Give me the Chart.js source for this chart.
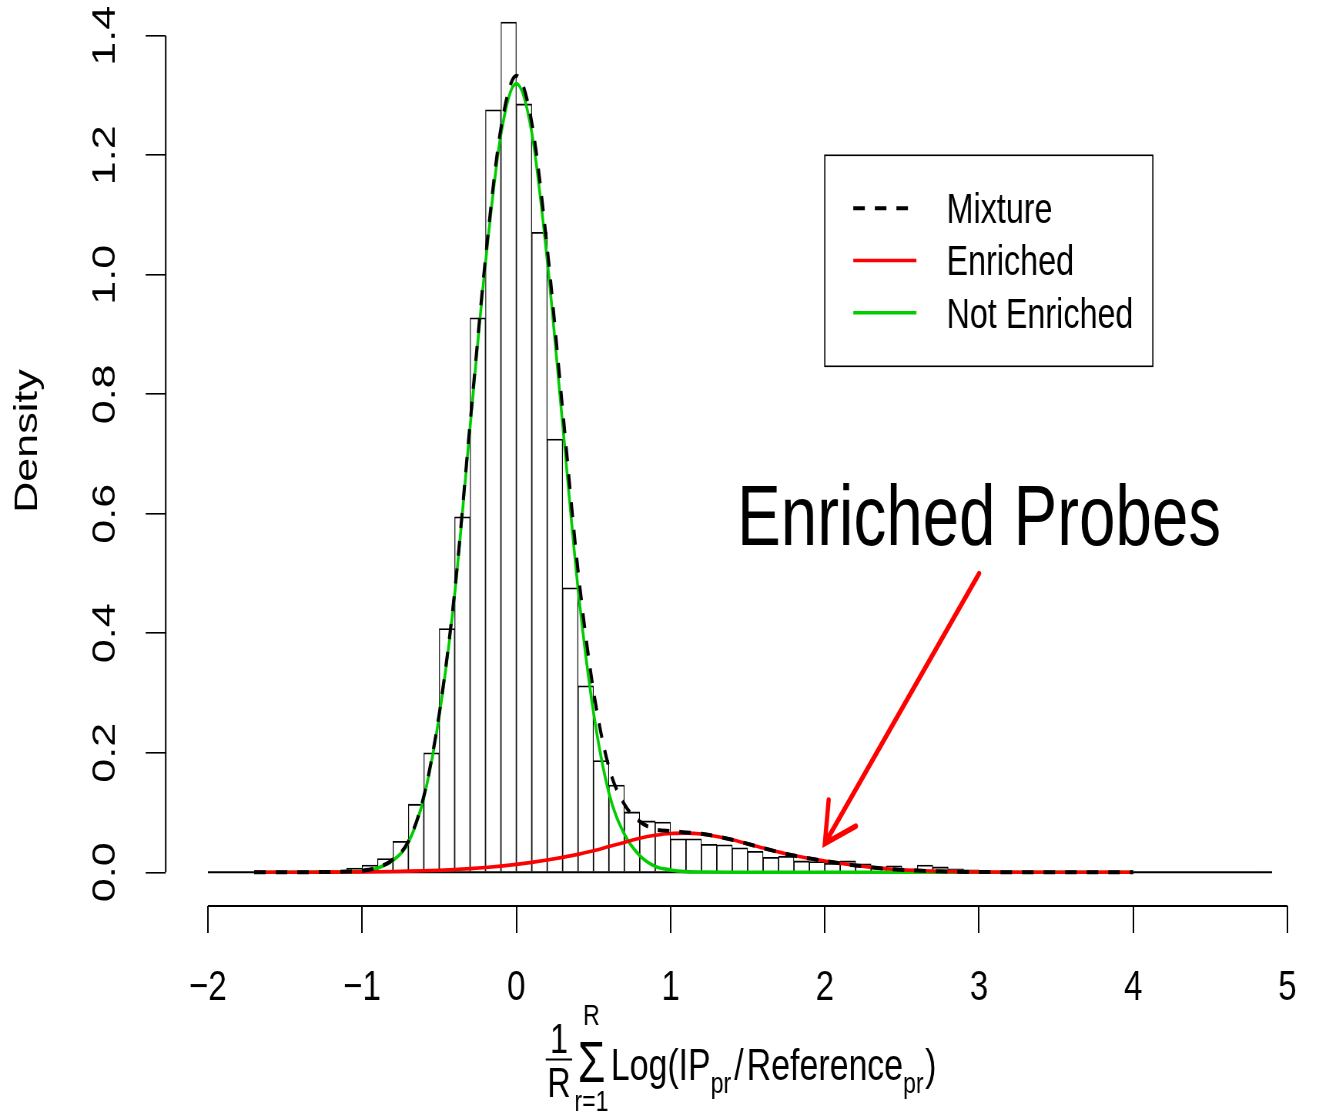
<!DOCTYPE html>
<html>
<head>
<meta charset="utf-8">
<script src="https://cdn.jsdelivr.net/npm/chart.js@4.4.0/dist/chart.umd.min.js"></script>
<style>
    html, body { margin: 0; padding: 0; background: #fff; overflow: hidden; }
    /* the original R device is squeezed horizontally in the reference picture */
    #wrap { width: 1713px; height: 1117px; transform: scaleX(0.77); transform-origin: 0 0; }
</style>
</head>
<body>
<div id="wrap"><canvas id="chart" width="1713" height="1117"></canvas></div>
<script>
// --- histogram (bin left edges, width 0.1) ---
const binLeft = [-2.0, -1.9, -1.8, -1.7, -1.6, -1.5, -1.4, -1.3, -1.2, -1.1, -1.0, -0.9, -0.8, -0.7, -0.6, -0.5, -0.4, -0.3, -0.2, -0.1,
    0.0, 0.1, 0.2, 0.3, 0.4, 0.5, 0.6, 0.7, 0.8, 0.9, 1.0, 1.1, 1.2, 1.3, 1.4, 1.5, 1.6, 1.7, 1.8, 1.9,
    2.0, 2.1, 2.2, 2.3, 2.4, 2.5, 2.6, 2.7, 2.8, 2.9, 3.0, 3.1, 3.2, 3.3, 3.4, 3.5, 3.6, 3.7, 3.8, 3.9,
    4.0, 4.1, 4.2, 4.3, 4.4, 4.5, 4.6, 4.7, 4.8];
const binWidth = 0.1;
const histDensity = [0, 0, 0, 0, 0, 0, 0, 0, 0.001, 0.007, 0.012, 0.023, 0.052, 0.114, 0.200, 0.408, 0.595, 0.928, 1.276, 1.423,
    1.286, 1.071, 0.725, 0.476, 0.312, 0.187, 0.146, 0.101, 0.086, 0.084, 0.056, 0.056, 0.047, 0.046, 0.041, 0.035, 0.025, 0.027, 0.019, 0.018,
    0.015, 0.019, 0.014, 0.009, 0.011, 0.006, 0.012, 0.009, 0.006, 0.004, 0.002, 0.001, 0.001, 0, 0, 0, 0, 0, 0, 0,
    0, 0, 0, 0, 0, 0, 0, 0, 0.001];

// --- fitted densities ---
const curveX = [-1.7, -1.4, -1.2, -1.1, -1.0, -0.9, -0.8, -0.7, -0.6, -0.5, -0.4, -0.3, -0.2, -0.1, 0.0, 0.1, 0.2, 0.3, 0.4, 0.5,
    0.6, 0.7, 0.8, 0.9, 1.0, 1.1, 1.2, 1.4, 1.6, 1.8, 2.0, 2.2, 2.4, 2.6, 2.8, 3.0, 3.3, 3.6, 4.0];
const mixture = [0, 0.0001, 0.0006, 0.0013, 0.0027, 0.008, 0.0214, 0.0519, 0.1276, 0.2655, 0.4697, 0.7512, 1.028, 1.2453, 1.3332, 1.2546, 1.0455, 0.775, 0.505, 0.304,
    0.176, 0.114, 0.085, 0.072, 0.069, 0.0667, 0.0644, 0.0545, 0.0405, 0.028, 0.019, 0.0115, 0.006, 0.0029, 0.0013, 0.0005, 0.0001, 0, 0];
const enriched = [0, 0.0001, 0.0003, 0.0005, 0.0007, 0.001, 0.0014, 0.0019, 0.0026, 0.0035, 0.0047, 0.0062, 0.008, 0.0103, 0.0132, 0.0166, 0.0205, 0.025, 0.03, 0.036,
    0.043, 0.05, 0.057, 0.062, 0.065, 0.0655, 0.064, 0.0545, 0.0405, 0.028, 0.019, 0.0115, 0.006, 0.0029, 0.0013, 0.0005, 0.0001, 0, 0];
const notEnriched = [0, 0, 0.0003, 0.0008, 0.002, 0.007, 0.02, 0.05, 0.125, 0.262, 0.465, 0.745, 1.02, 1.235, 1.32, 1.238, 1.025, 0.75, 0.475, 0.268,
    0.133, 0.064, 0.028, 0.01, 0.004, 0.0012, 0.0004, 0, 0, 0, 0, 0, 0, 0, 0, 0, 0, 0, 0];

const xTicks = [-2, -1, 0, 1, 2, 3, 4, 5];
const yTicks = [0, 0.2, 0.4, 0.6, 0.8, 1.0, 1.2, 1.4];
const legendLabels = ['Mixture', 'Enriched', 'Not Enriched'];
const legendColors = ['#000000', '#FF0000', '#00CD00'];
const legendAnchor = [2.0, 1.2];      // top-left of the legend box, data units
const noteText = 'Enriched Probes';
const notePos = [3.0, 0.6];           // centre of the note, data units
const arrowFrom = [3.0, 0.5];
const arrowTo = [2.0, 0.048];

const FONT = '"Liberation Sans", Arial, Helvetica, sans-serif';
const MIX_DASH = [15, 13];

function pts(xs, ys) {
    return xs.map((x, i) => ({ x: x, y: ys[i] }));
}

// --- R style decorations: axis lines, legend, note, arrow, axis titles ---
const rDecor = {
    id: 'rDecor',
    afterDraw(chart) {
        const ctx = chart.ctx;
        const xs = chart.scales.x, ys = chart.scales.y;
        const area = chart.chartArea;
        ctx.save();
        ctx.strokeStyle = '#000';
        ctx.fillStyle = '#000';

        // axis lines only over the tick range
        ctx.lineWidth = 1.8;
        ctx.beginPath();
        ctx.moveTo(xs.getPixelForValue(xTicks[0]), area.bottom);
        ctx.lineTo(xs.getPixelForValue(xTicks[xTicks.length - 1]), area.bottom);
        ctx.stroke();
        ctx.lineWidth = 2;
        ctx.beginPath();
        ctx.moveTo(area.left, ys.getPixelForValue(yTicks[0]));
        ctx.lineTo(area.left, ys.getPixelForValue(yTicks[yTicks.length - 1]));
        ctx.stroke();

        // legend box
        const lx = xs.getPixelForValue(legendAnchor[0]);
        const ly = ys.getPixelForValue(legendAnchor[1]);
        ctx.lineWidth = 1.6;
        ctx.strokeRect(lx, ly, 426, 211);
        legendLabels.forEach((label, i) => {
            const ry = ly + 53 + i * 52.2;
            ctx.strokeStyle = legendColors[i];
            ctx.lineWidth = i === 0 ? 4 : 3.6;
            ctx.setLineDash(i === 0 ? MIX_DASH : []);
            ctx.beginPath();
            ctx.moveTo(lx + 37, ry);
            ctx.lineTo(lx + 119, ry);
            ctx.stroke();
            ctx.setLineDash([]);
            ctx.font = '42px ' + FONT;
            ctx.textAlign = 'left';
            ctx.textBaseline = 'alphabetic';
            ctx.fillText(label, lx + 158, ry + 15);
        });

        // note text
        ctx.font = '85px ' + FONT;
        ctx.textAlign = 'center';
        ctx.textBaseline = 'alphabetic';
        ctx.fillText(noteText, xs.getPixelForValue(notePos[0]), ys.getPixelForValue(notePos[1]) + 31);

        // arrow
        const ax0 = xs.getPixelForValue(arrowFrom[0]), ay0 = ys.getPixelForValue(arrowFrom[1]);
        const ax1 = xs.getPixelForValue(arrowTo[0]), ay1 = ys.getPixelForValue(arrowTo[1]);
        const ang = Math.atan2(ay1 - ay0, ax1 - ax0);
        const head = 44, spread = Math.PI / 6;
        ctx.strokeStyle = '#FF0000';
        ctx.lineWidth = 5.5;
        ctx.lineCap = 'round';
        ctx.beginPath();
        ctx.moveTo(ax0, ay0);
        ctx.lineTo(ax1, ay1);
        ctx.moveTo(ax1 - head * Math.cos(ang - spread), ay1 - head * Math.sin(ang - spread));
        ctx.lineTo(ax1, ay1);
        ctx.lineTo(ax1 - head * Math.cos(ang + spread), ay1 - head * Math.sin(ang + spread));
        ctx.stroke();
        ctx.lineCap = 'butt';

        // y title
        ctx.save();
        ctx.translate(36, 441);
        ctx.rotate(-Math.PI / 2);
        ctx.font = '43px ' + FONT;
        ctx.textAlign = 'center';
        ctx.textBaseline = 'middle';
        ctx.fillStyle = '#000';
        ctx.fillText('Density', 0, 0);
        ctx.restore();

        // x title: 1/R sum_{r=1}^R Log(IP_pr / Reference_pr)
        drawXTitle(ctx, (area.left + area.right) / 2);
        ctx.restore();
    }
};

function drawXTitle(ctx, cx) {
    const f = s => s + 'px ' + FONT;
    ctx.fillStyle = '#000';
    ctx.strokeStyle = '#000';
    ctx.textAlign = 'left';
    ctx.textBaseline = 'alphabetic';
    ctx.font = f(42);
    const fracW = Math.max(ctx.measureText('1').width, ctx.measureText('R').width) + 4;
    ctx.font = f(58);
    const wSig = ctx.measureText('\u03A3').width;
    ctx.font = f(30);
    const wUp = ctx.measureText('R').width, wLow = ctx.measureText('r=1').width, wPr = ctx.measureText('pr').width;
    const sumW = Math.max(wSig, wUp, wLow);
    ctx.font = f(44);
    const wLog = ctx.measureText('Log(IP').width, wSl = ctx.measureText('/').width;
    const wRef = ctx.measureText('Reference').width, wPar = ctx.measureText(')').width;
    const gap = 3;
    const total = fracW + gap + sumW + gap + wLog + wPr + 4 + wSl + 4 + wRef + wPr + 2 + wPar;
    let x = cx - total / 2;

    // fraction 1/R
    ctx.font = f(42);
    ctx.textAlign = 'center';
    ctx.fillText('1', x + fracW / 2, 1053);
    ctx.fillText('R', x + fracW / 2, 1097);
    ctx.lineWidth = 2;
    ctx.beginPath();
    ctx.moveTo(x, 1059.5);
    ctx.lineTo(x + fracW, 1059.5);
    ctx.stroke();
    x += fracW + gap;

    // summation with limits
    const sc = x + sumW / 2;
    ctx.font = f(58);
    ctx.fillText('\u03A3', sc, 1082);
    ctx.font = f(30);
    ctx.fillText('R', sc, 1025);
    ctx.fillText('r=1', sc, 1111);
    x += sumW + gap;

    ctx.textAlign = 'left';
    ctx.font = f(44);
    ctx.fillText('Log(IP', x, 1080); x += wLog;
    ctx.font = f(30);
    ctx.fillText('pr', x, 1093); x += wPr + 4;
    ctx.font = f(44);
    ctx.fillText('/', x, 1080); x += wSl + 4;
    ctx.fillText('Reference', x, 1080); x += wRef;
    ctx.font = f(30);
    ctx.fillText('pr', x, 1093); x += wPr + 2;
    ctx.font = f(44);
    ctx.fillText(')', x, 1080);
}

const histPoints = binLeft.map((b, i) => ({ x: b + binWidth / 2, y: histDensity[i] }));

new Chart(document.getElementById('chart'), {
    type: 'bar',
    data: {
        datasets: [
            {
                type: 'line', label: legendLabels[0], data: pts(curveX, mixture), order: 0, clip: false,
                borderColor: '#000', borderWidth: 4, borderDash: MIX_DASH,
                pointRadius: 0, cubicInterpolationMode: 'monotone', fill: false
            },
            {
                type: 'line', label: legendLabels[1], data: pts(curveX, enriched), order: 1, clip: false,
                borderColor: '#FF0000', borderWidth: 3.6,
                pointRadius: 0, cubicInterpolationMode: 'monotone', fill: false
            },
            {
                type: 'line', label: legendLabels[2], data: pts(curveX, notEnriched), order: 2, clip: false,
                borderColor: '#00CD00', borderWidth: 3.6,
                pointRadius: 0, cubicInterpolationMode: 'monotone', fill: false
            },
            {
                type: 'line', label: 'base', order: 3,
                data: [{ x: binLeft[0], y: 0 }, { x: binLeft[binLeft.length - 1] + binWidth, y: 0 }],
                borderColor: '#000', borderWidth: 2, pointRadius: 0
            },
            {
                type: 'bar', label: 'Histogram', data: histPoints, order: 4, clip: false,
                backgroundColor: '#fff', borderColor: '#000',
                borderWidth: { top: 1.8, left: 1.2, right: 1.2, bottom: 0 },
                barPercentage: 1, categoryPercentage: 1, grouped: false
            }
        ]
    },
    options: {
        responsive: false,
        animation: false,
        devicePixelRatio: 1,
        layout: { padding: { top: 30, right: 0, bottom: 0, left: 0 } },
        plugins: { legend: { display: false }, tooltip: { enabled: false } },
        scales: {
            x: {
                type: 'linear', min: -2.2735, max: 5.188, offset: false,
                afterBuildTicks: s => { s.ticks = xTicks.map(v => ({ value: v })); },
                afterFit: s => { s.height = 211; },
                border: { display: false },
                grid: { offset: false, drawOnChartArea: false, drawTicks: true, tickLength: 27, color: '#000', lineWidth: 2 },
                ticks: {
                    autoSkip: false, maxRotation: 0, minRotation: 0, padding: 29, color: '#000',
                    font: { family: FONT, size: 43 },
                    callback: v => String(v).replace('-', '\u2212')
                }
            },
            y: {
                type: 'linear', min: -0.0564, max: 1.4097,
                afterBuildTicks: s => { s.ticks = yTicks.map(v => ({ value: v })); },
                afterFit: s => { s.width = 215.2; },
                border: { display: false },
                grid: { drawOnChartArea: false, drawTicks: true, tickLength: 26, color: '#000', lineWidth: 1.6 },
                ticks: {
                    autoSkip: false, minRotation: 90, maxRotation: 90, crossAlign: 'center', padding: 22, color: '#000',
                    // small line height keeps the rotated labels from pushing the plot area down
                    font: { family: FONT, size: 43, lineHeight: 0.2 },
                    callback: v => v.toFixed(1)
                }
            }
        }
    },
    plugins: [rDecor]
});
</script>
</body>
</html>
